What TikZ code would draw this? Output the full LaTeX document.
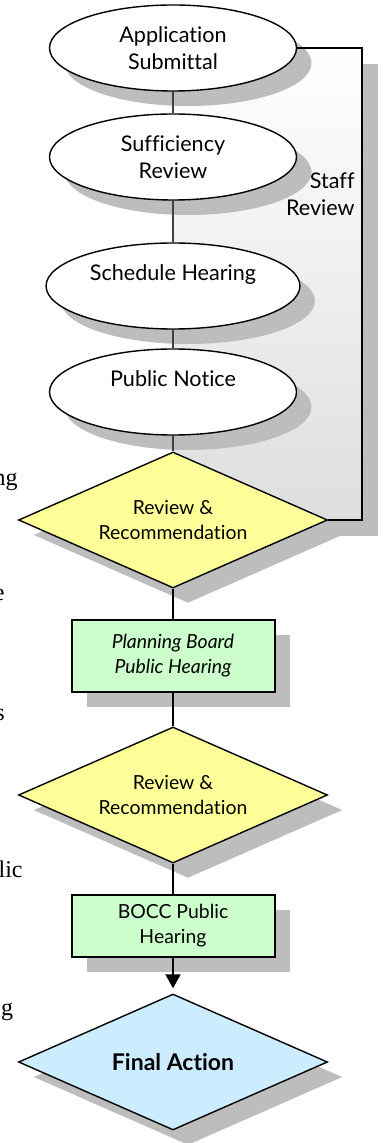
\documentclass[tikz,border=0pt]{standalone}
\usepackage{fontspec}
\setmainfont{Lato}[Ligatures=NoCommon]
\newfontfamily\pagetext{Liberation Serif}
\usetikzlibrary{shapes.geometric,arrows.meta,shadows}

\definecolor{reviewyellow}{RGB}{255,255,153}
\definecolor{hearinggreen}{RGB}{204,255,204}
\definecolor{finalblue}{RGB}{204,236,255}

\tikzset{
  dropshade/.style={drop shadow={shadow xshift=7.5pt,shadow yshift=-7.5pt,fill=black!26,opacity=1}},
  stepoval/.style={ellipse,draw,line width=0.7pt,fill=white,minimum width=123.5pt,minimum height=43pt,
                   align=center,font=\fontsize{10.8}{13.5}\selectfont,dropshade},
  decide/.style={diamond,draw,line width=0.7pt,aspect=2.27,inner sep=1pt,minimum width=154.5pt,
                 minimum height=68pt,align=center,font=\fontsize{9.7}{12.5}\selectfont,dropshade},
  hearbox/.style={rectangle,draw,line width=1pt,fill=hearinggreen,minimum width=101.5pt,
                  align=center,font=\fontsize{9.7}{12.5}\selectfont,dropshade},
  thinlink/.style={line width=0.6pt,black!75},
  boldlink/.style={line width=1pt},
  frag/.style={anchor=base east,inner sep=0pt,font=\pagetext\fontsize{12}{14}\selectfont,black}
}

% positions in pixels of the page
\newcommand{\setup}{
    \coordinate (p1) at (173,48);
    \coordinate (p2) at (173,157);
    \coordinate (p3) at (173,286);
    \coordinate (p4) at (173,392);
    \coordinate (p5) at (173,520);
    \coordinate (p6) at (173,656);
    \coordinate (p7) at (173,795);
    \coordinate (p8) at (173,926);
    \coordinate (p9) at (173,1062);

    \coordinate (stafftop) at (362,48);
    \coordinate (staffbot) at (362,520);
}

\begin{document}
\begin{tikzpicture}[x=0.5pt,y=-0.5pt]
    \useasboundingbox (0,0) rectangle (382,1143);
    \setup;

    % staff review band
    \fill[black!26] (189,64) rectangle (378,536);
    \shade[top color=white,bottom color=black!13] (173,48) rectangle (362,520);
    \node[anchor=east,align=right,inner sep=0pt,font=\fontsize{10.8}{13.5}\selectfont] (staff) at (355,194) {Staff\\Review};

    \node[stepoval] (apply)  at (p1) {Application\\Submittal};
    \node[stepoval] (suff)   at (p2) {Sufficiency\\Review};
    \node[stepoval] (sched)  at (p3) {Schedule Hearing\\\mbox{}};
    \node[stepoval] (notice) at (p4) {Public Notice\\\mbox{}};

    \node[decide,fill=reviewyellow] (rev1) at (p5) {Review \&\\Recommendation};
    \node[hearbox,minimum height=36pt] (pbhear) at (p6) {\itshape Planning Board\\\itshape Public Hearing};
    \node[decide,fill=reviewyellow] (rev2) at (p7) {Review \&\\Recommendation};
    \node[hearbox,minimum height=31pt] (bocc) at (p8) {BOCC Public\\Hearing};
    \node[decide,fill=finalblue,font=\fontsize{11.5}{13}\selectfont\bfseries] (final) at (p9) {Final Action};

    \draw[thinlink] (apply) -- (suff);
    \draw[thinlink] (suff) -- (sched);
    \draw[thinlink] (sched) -- (notice);
    \draw[thinlink] (notice) -- (rev1);
    \draw[boldlink] (rev1) -- (pbhear);
    \draw[boldlink] (pbhear) -- (rev2);
    \draw[boldlink] (rev2) -- (bocc);
    \draw[boldlink,-{Triangle[length=7pt,width=7.5pt]},shorten >=2.5pt] (bocc) -- (final);

    \draw[line width=0.7pt] (apply.east) -- (stafftop) -- (staffbot) -- (rev1.east);

    % cut words of the page text
    \node[frag] (fragng)  at (18,486)   {ng};
    \node[frag] (frage)   at (5,600)    {e};
    \node[frag] (frags)   at (5,720)    {s};
    \node[frag] (fraglic) at (23,877)   {lic};
    \node[frag] (fragg)   at (13.5,1015) {g};
\end{tikzpicture}
\end{document}
